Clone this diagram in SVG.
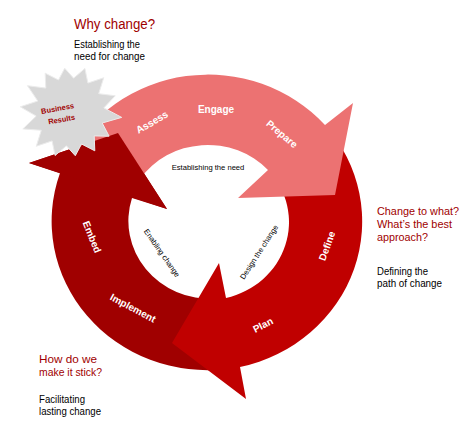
<svg xmlns="http://www.w3.org/2000/svg" width="463" height="439" viewBox="0 0 463 439">
<style>
.pink{fill:#ec7272}
.red{fill:#c00000}
.dark{fill:#a00000}
.lbl{font-family:"Liberation Sans",Arial,sans-serif;font-weight:bold;font-size:10px;fill:#fff;text-anchor:middle}
.inner{font-family:"Liberation Sans",Arial,sans-serif;font-size:7.6px;fill:#000;text-anchor:middle}
.title{font-family:"Liberation Sans",Arial,sans-serif;font-size:11.5px;fill:#a00000}
.body{font-family:"Liberation Sans",Arial,sans-serif;font-size:10px;fill:#000}
.star{fill:#d8d8d8;stroke:#ececec;stroke-width:1}
.startxt{font-family:"Liberation Sans",Arial,sans-serif;font-weight:bold;font-size:7.5px;fill:#a00000;text-anchor:middle}
</style>
<rect width="463" height="439" fill="#fff"/>
<g id="connectors">
  <path id="arrow-implement" class="dark" d="M228,368.9 A156,149 0 0 1 60,173 L29,163 L118,133 L167,209 L132,198 A82,78 0 0 0 215,298.8 Z"/>
  <path id="arrow-define" class="red" d="M325,125 A156,149 0 0 1 240,367 L246,399 L172,343 L219,263 L226,298 A82,78 0 0 0 268,170 Z"/>
  <path id="arrow-assess" class="pink" d="M67,160 A156,149 0 0 1 325,125 L353,103 L335,195 L238,198 L268,170 A82,78 0 0 0 140,179 Z"/>
  <polygon id="arrow-implement-head" class="dark" points="29,163 118,133 167,209"/>
</g>
<g id="node-business-results">
  <polygon class="star" points="121.7,117.4 102.2,123 109.1,136.2 94.2,135.9 94.8,150.8 81.5,144 75.3,155.7 66.4,145.8 55.1,155.5 52.1,140.9 36.3,146.2 41.3,130.3 22.9,128.9 36.2,116.1 20.3,106.8 37.8,101 27.5,85.7 45.8,88.1 45.2,73.2 58.5,80 64.7,68.3 73.6,78.2 84.9,68.5 87.9,83.1 103.7,77.8 98.7,93.7 115.2,95.8 103.8,107.9"/>
  <text class="startxt" transform="translate(58,111) rotate(-10)">Business</text>
  <text class="startxt" transform="translate(62,122) rotate(-10)">Results</text>
</g>
<g id="node-labels">
  <text class="lbl" transform="translate(152,122) rotate(-30)" y="3.5">Assess</text>
  <text class="lbl" transform="translate(216,109)" y="3.5">Engage</text>
  <text class="lbl" transform="translate(282,134) rotate(40)" y="3.5">Prepare</text>
  <text class="lbl" transform="translate(327,246) rotate(-70)" y="3.5">Define</text>
  <text class="lbl" transform="translate(263,325) rotate(-27)" y="3.5">Plan</text>
  <text class="lbl" transform="translate(133,308) rotate(28)" y="3.5">Implement</text>
  <text class="lbl" transform="translate(92,237) rotate(68)" y="3.5">Embed</text>
  <text class="inner" transform="translate(208,167)" y="2.7">Establishing the need</text>
  <text class="inner" transform="translate(162,253) rotate(55)" y="2.7">Enabling change</text>
  <text class="inner" transform="translate(259,252) rotate(-57)" y="2.7">Design the change</text>
</g>
<g id="node-why">
  <text class="title" x="74" y="29" style="font-size:14px" textLength="81" lengthAdjust="spacingAndGlyphs">Why change?</text>
  <text class="body" x="74" y="48" textLength="66" lengthAdjust="spacingAndGlyphs">Establishing the</text>
  <text class="body" x="74" y="60" textLength="71" lengthAdjust="spacingAndGlyphs">need for change</text>
</g>
<g id="node-what">
  <text class="title" x="377" y="215" textLength="82" lengthAdjust="spacingAndGlyphs">Change to what?</text>
  <text class="title" x="377" y="228" textLength="75" lengthAdjust="spacingAndGlyphs">What’s the best</text>
  <text class="title" x="377" y="241" textLength="51" lengthAdjust="spacingAndGlyphs">approach?</text>
  <text class="body" x="377" y="275" textLength="51" lengthAdjust="spacingAndGlyphs">Defining the</text>
  <text class="body" x="377" y="287" textLength="65" lengthAdjust="spacingAndGlyphs">path of change</text>
</g>
<g id="node-stick">
  <text class="title" x="39" y="363" textLength="58" lengthAdjust="spacingAndGlyphs">How do we</text>
  <text class="title" x="39" y="376" textLength="63" lengthAdjust="spacingAndGlyphs">make it stick?</text>
  <text class="body" x="39" y="403" textLength="46" lengthAdjust="spacingAndGlyphs">Facilitating</text>
  <text class="body" x="39" y="415" textLength="62" lengthAdjust="spacingAndGlyphs">lasting change</text>
</g>
</svg>
